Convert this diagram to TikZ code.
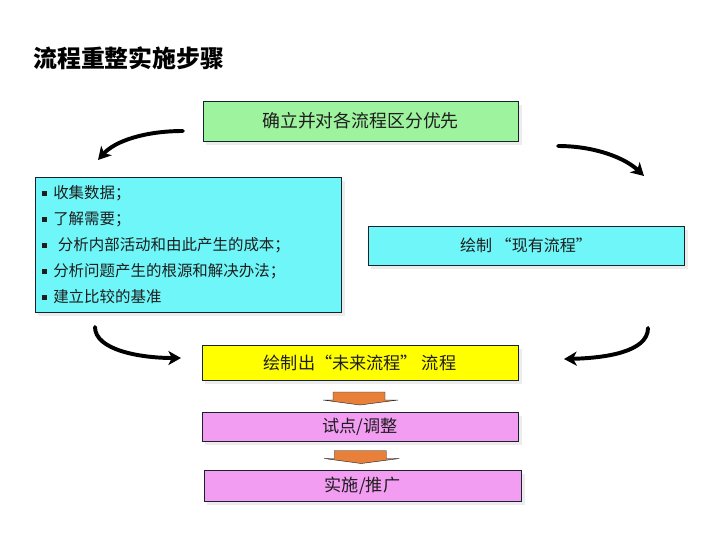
\documentclass[tikz,border=0pt]{standalone}
\usepackage{fontspec}
\setmainfont{Noto Sans CJK SC}
\usetikzlibrary{calc,arrows.meta,shadows}
\definecolor{cgreen}{HTML}{9EF49E}
\definecolor{ccyan}{HTML}{6EF6F8}
\definecolor{cyellow}{HTML}{FFFF00}
\definecolor{cpink}{HTML}{F29CF2}
\definecolor{corange}{HTML}{E8803A}
\definecolor{cink}{HTML}{1E1E1E}
\definecolor{cedge}{HTML}{16222C}
\newcommand\sqbullet{\rule[0.16em]{0.33em}{0.33em}\hspace{0.4em}}

\begin{document}
\begin{tikzpicture}[x=0.025cm, y=-0.025cm,
  box/.style={draw=cedge, line width=0.6pt, inner sep=0pt, text=cink,
    drop shadow={opacity=0.15, shadow xshift=2.5pt, shadow yshift=-2.5pt}},
  curl/.style={line width=2.8pt, line cap=round,
    -{Stealth[length=9pt, width=10pt, inset=2.5pt]}},
  downarrow/.pic={
    \filldraw[fill=corange, draw=cedge, line width=0.3pt]
      (-27,-7) -- (25,-7) -- (25,1) -- (38,1) -- (0,6) -- (-37,1) -- (-27,1) -- cycle;
  }]
\useasboundingbox (0,0) rectangle (720,540);
%% ------------------------------------------------------------------ title
\node[anchor=west, inner sep=0pt, font=\fontsize{17}{20}\selectfont\bfseries]
  (title) at (33,58) {流程重整实施步骤};
%% ------------------------------------------------------------------ boxes
\node[box, fill=cgreen, minimum width=7.875cm, minimum height=1cm,
  font=\fontsize{12.7}{15}\selectfont] (prio) at (360.5,121) {确立并对各流程区分优先};
\node[box, fill=ccyan, minimum width=7.65cm, minimum height=3.375cm,
  text width=7.3cm, align=left, font=\fontsize{11}{18.6}\selectfont] (tasks) at (188,244.5)
  {\sqbullet 收集数据；\\
   \sqbullet 了解需要；\\
   \sqbullet\hspace{0.3em}分析内部活动和由此产生的成本；\\
   \sqbullet 分析问题产生的根源和解决办法；\\
   \sqbullet 建立比较的基准};
\node[box, fill=ccyan, minimum width=7.9cm, minimum height=0.975cm,
  font=\fontsize{11.4}{14}\selectfont] (asis) at (526,245.5) {绘制 “现有流程”};
\node[box, fill=cyellow, minimum width=7.9cm, minimum height=0.875cm,
  font=\fontsize{12.2}{15}\selectfont] (tobe) at (360,362.5) {绘制出“未来流程” 流程};
\node[box, fill=cpink, minimum width=7.9cm, minimum height=0.725cm,
  font=\fontsize{12.2}{15}\selectfont] (pilot) at (360,426.5) {试点/调整};
\node[box, fill=cpink, minimum width=7.925cm, minimum height=0.775cm,
  font=\fontsize{12.2}{15}\selectfont] (roll) at (362.5,485.5) {实施/推广};
%% ------------------------------------------------------------------ curved arrows
\coordinate (c1s) at (183,131);  \coordinate (c1e) at (98,160);
\coordinate (c2s) at (558,146);  \coordinate (c2e) at (644,176);
\coordinate (c3s) at (95,327);   \coordinate (c3e) at (181,358);
\coordinate (c4s) at (648,328);  \coordinate (c4e) at (564,359);
\draw[curl] (c1s) .. controls (145,131) and (115,141) .. (c1e);
\draw[curl] (c2s) .. controls (595,146) and (625,158) .. (c2e);
\draw[curl] (c3s) .. controls (95,350) and (140,358) .. (c3e);
\draw[curl] (c4s) .. controls (648,352) and (605,358) .. (c4e);
%% ------------------------------------------------------------------ block arrows
\pic at ($(tobe.south)!0.5!(pilot.north)+(0,3)$) {downarrow};
\pic at ($(pilot.south)!0.5!(roll.north)+(0,2)$) {downarrow};
\end{tikzpicture}
\end{document}
